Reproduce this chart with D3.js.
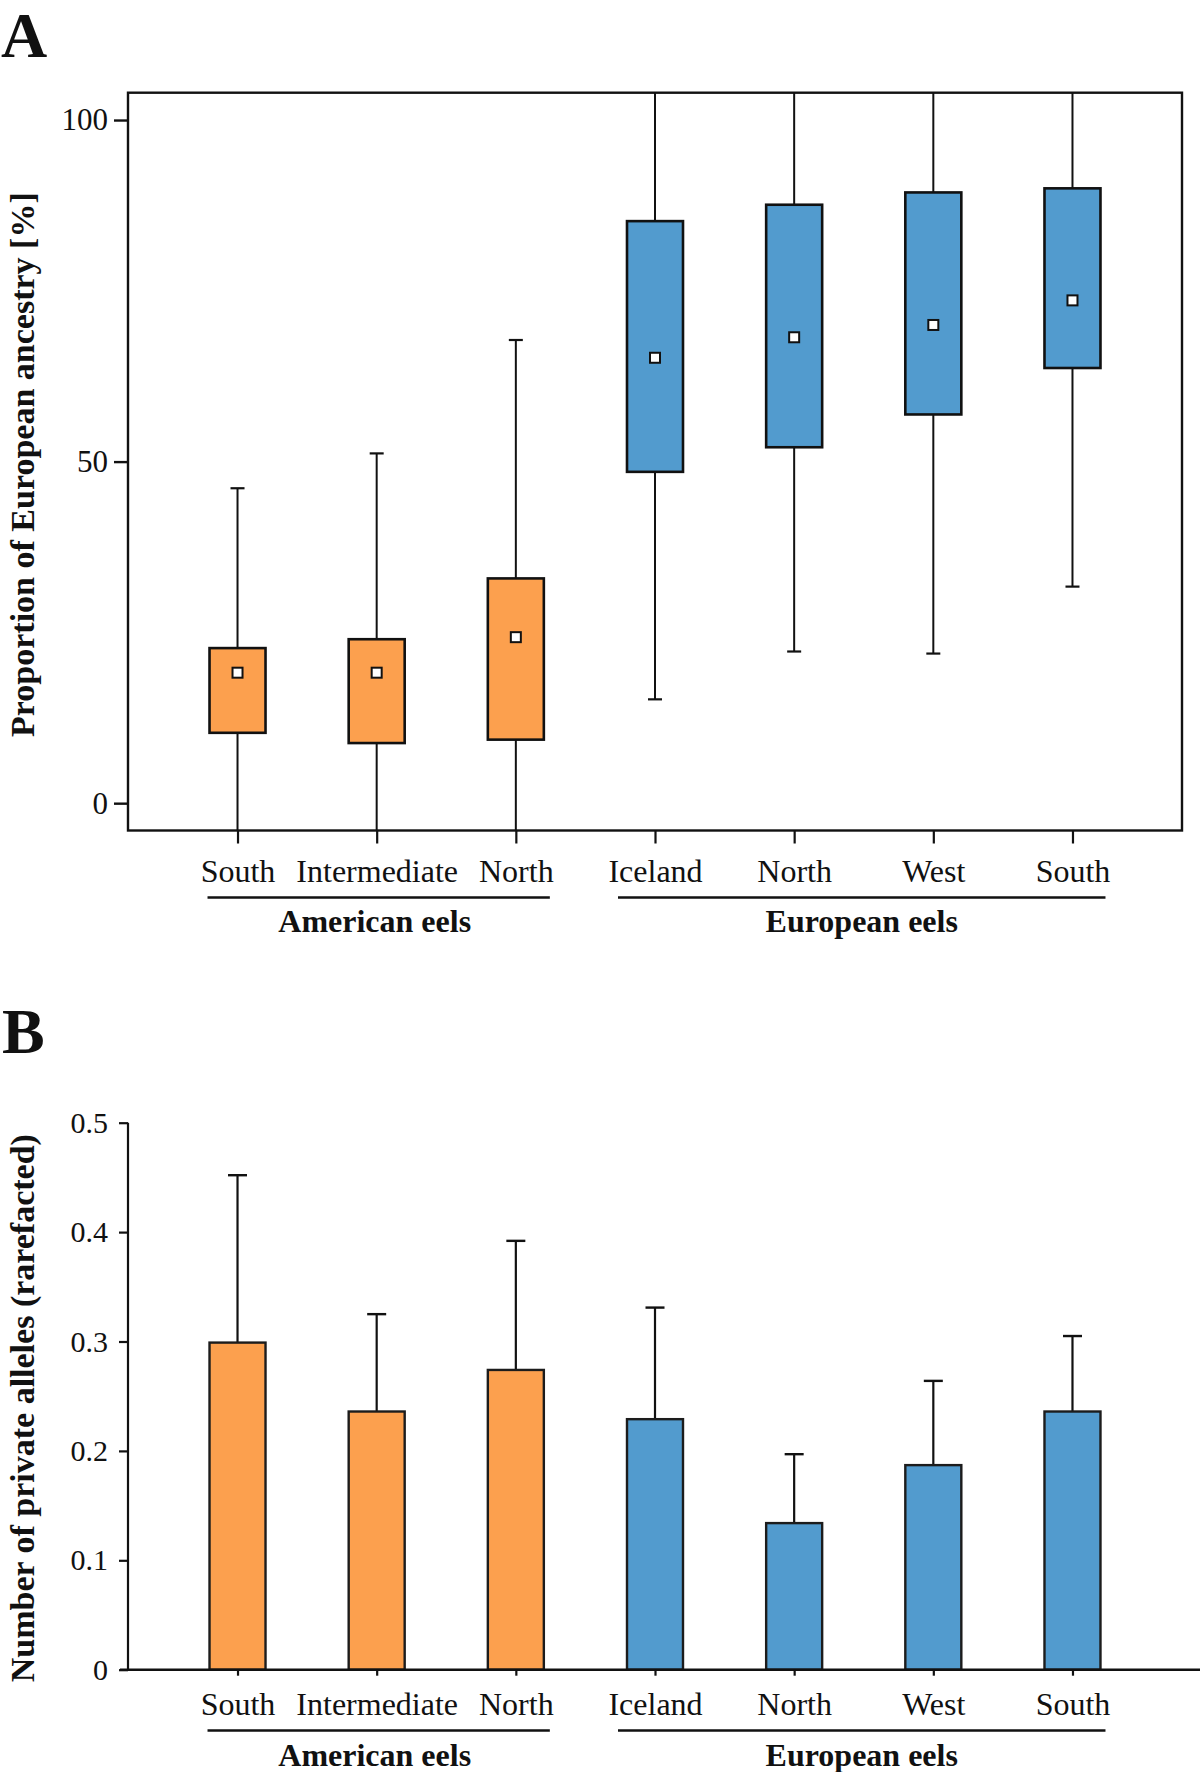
<!DOCTYPE html>
<html>
<head>
<meta charset="utf-8">
<script src="https://cdn.jsdelivr.net/npm/d3@7"></script>
<style>
  html, body { margin: 0; padding: 0; background: #fff; }
  svg { display: block; }
  text { font-family: "Liberation Serif", "Times New Roman", serif; fill: #111; }
</style>
</head>
<body>
<svg id="chart" width="1200" height="1772"></svg>
<script>
// ---------- data ----------
const categories = ["South", "Intermediate", "North", "Iceland", "North", "West", "South"];
const groups = ["American eels", "American eels", "American eels", "European eels", "European eels", "European eels", "European eels"];
const groupNames = ["American eels", "European eels"];

// Panel A: proportion of European ancestry [%]
const whiskerLow  = [0, 0, 0, 15.2, 22.2, 21.9, 31.7];
const boxLow      = [10.3, 8.8, 9.3, 48.5, 52.1, 56.9, 63.7];
const centerMark  = [19.1, 19.1, 24.3, 65.2, 68.2, 70.0, 73.6];
const boxHigh     = [22.7, 24.0, 32.9, 85.2, 87.6, 89.4, 90.0];
const whiskerHigh = [46.1, 51.2, 67.8, 100, 100, 100, 100];
const ticksA = [0, 50, 100];

// Panel B: number of private alleles (rarefacted)
const allelesMean = [0.299, 0.236, 0.274, 0.229, 0.134, 0.187, 0.236];
const allelesErr  = [0.452, 0.325, 0.392, 0.331, 0.197, 0.264, 0.305];
const ticksB = [0, 0.1, 0.2, 0.3, 0.4, 0.5];

// ---------- styling ----------
const ORANGE = "#FCA04E";
const BLUE = "#529BCE";
const INK = "#111";
const colorFor = g => g === "American eels" ? ORANGE : BLUE;
const bracketPad = { "American eels": [30, 34], "European eels": [37, 33] };

const keys = categories.map((c, i) => i);
const svg = d3.select("#chart");

// ---------- panel A ----------
const A = { left: 128, right: 1182, top: 92.7, bottom: 830.5 };
const xA = d3.scalePoint().domain(keys).range([A.left, A.right]).padding(0.787);
const yA = d3.scaleLinear().domain([-4, 104]).range([A.bottom, A.top]);
const boxW = 56, capA = 14, markS = 10;

svg.append("text").attr("x", 1).attr("y", 56.5)
  .attr("font-size", 64).attr("font-weight", "bold").text("A");

const gA = svg.append("g");
gA.append("clipPath").attr("id", "clipA").append("rect")
  .attr("x", A.left).attr("y", A.top).attr("width", A.right - A.left).attr("height", A.bottom - A.top);
const plotA = gA.append("g").attr("clip-path", "url(#clipA)");

keys.forEach(i => {
  const cx = xA(i);
  const lowEdge = whiskerLow[i] <= 0 ? A.bottom : yA(whiskerLow[i]);
  const highEdge = whiskerHigh[i] >= 100 ? A.top : yA(whiskerHigh[i]);
  plotA.append("line").attr("x1", cx).attr("x2", cx).attr("y1", yA(boxLow[i])).attr("y2", lowEdge)
    .attr("stroke", INK).attr("stroke-width", 2);
  plotA.append("line").attr("x1", cx).attr("x2", cx).attr("y1", yA(boxHigh[i])).attr("y2", highEdge)
    .attr("stroke", INK).attr("stroke-width", 2);
  if (whiskerLow[i] > 0) {
    plotA.append("line").attr("x1", cx - capA / 2).attr("x2", cx + capA / 2)
      .attr("y1", yA(whiskerLow[i])).attr("y2", yA(whiskerLow[i])).attr("stroke", INK).attr("stroke-width", 2.2);
  }
  if (whiskerHigh[i] < 100) {
    plotA.append("line").attr("x1", cx - capA / 2).attr("x2", cx + capA / 2)
      .attr("y1", yA(whiskerHigh[i])).attr("y2", yA(whiskerHigh[i])).attr("stroke", INK).attr("stroke-width", 2.2);
  }
  plotA.append("rect").attr("x", cx - boxW / 2).attr("y", yA(boxHigh[i]))
    .attr("width", boxW).attr("height", yA(boxLow[i]) - yA(boxHigh[i]))
    .attr("fill", colorFor(groups[i])).attr("stroke", INK).attr("stroke-width", 2.6);
  plotA.append("rect").attr("x", cx - markS / 2).attr("y", yA(centerMark[i]) - markS / 2)
    .attr("width", markS).attr("height", markS)
    .attr("fill", "#fff").attr("stroke", INK).attr("stroke-width", 2);
});

gA.append("rect").attr("x", A.left).attr("y", A.top).attr("width", A.right - A.left).attr("height", A.bottom - A.top)
  .attr("fill", "none").attr("stroke", INK).attr("stroke-width", 2.4);

const yAxisA = d3.axisLeft(yA).tickValues(ticksA).tickSize(14).tickPadding(6).tickFormat(d3.format("d"));
const yaxA = gA.append("g").attr("transform", `translate(${A.left},0)`).call(yAxisA);
yaxA.select(".domain").remove();
yaxA.selectAll(".tick line").attr("stroke", INK).attr("stroke-width", 2.4);
yaxA.selectAll(".tick text").attr("font-size", 31).attr("font-family", "Liberation Serif, serif").attr("fill", INK);

const xAxisA = d3.axisBottom(xA).tickSize(13).tickPadding(14).tickFormat(i => categories[i]);
const xaxA = gA.append("g").attr("transform", `translate(0,${A.bottom})`).call(xAxisA);
xaxA.select(".domain").remove();
xaxA.selectAll(".tick line").attr("stroke", INK).attr("stroke-width", 2.2);
xaxA.selectAll(".tick text").attr("font-size", 32).attr("font-family", "Liberation Serif, serif").attr("fill", INK)
  .attr("dy", null).attr("y", 51);

svg.append("text")
  .attr("transform", `translate(34,${(A.top + A.bottom) / 2 + 3}) rotate(-90)`)
  .attr("text-anchor", "middle").attr("font-size", 34).attr("font-weight", "bold")
  .text("Proportion of European ancestry [%]");

function groupBrackets(x, lineY, labelY) {
  groupNames.forEach(gn => {
    const idx = keys.filter(i => groups[i] === gn);
    const pad = bracketPad[gn];
    const x0 = x(idx[0]) - pad[0], x1 = x(idx[idx.length - 1]) + pad[1];
    svg.append("line").attr("x1", x0).attr("x2", x1).attr("y1", lineY).attr("y2", lineY)
      .attr("stroke", INK).attr("stroke-width", 2.4);
    svg.append("text").attr("x", (x(idx[0]) + x(idx[idx.length - 1])) / 2 - 2).attr("y", labelY)
      .attr("text-anchor", "middle").attr("font-size", 32).attr("font-weight", "bold").text(gn);
  });
}
groupBrackets(xA, 897.5, 931.5);

// ---------- panel B ----------
const B = { left: 128, right: 1200, top: 1122.7, bottom: 1669.7 };
const xB = xA;
const yB = d3.scaleLinear().domain([0, 0.5]).range([B.bottom, B.top]);
const capB = 19;

svg.append("text").attr("x", 2).attr("y", 1053)
  .attr("font-size", 64).attr("font-weight", "bold").text("B");

const gB = svg.append("g");
keys.forEach(i => {
  const cx = xB(i);
  gB.append("line").attr("x1", cx).attr("x2", cx).attr("y1", yB(allelesMean[i])).attr("y2", yB(allelesErr[i]))
    .attr("stroke", INK).attr("stroke-width", 2.2);
  gB.append("line").attr("x1", cx - capB / 2).attr("x2", cx + capB / 2)
    .attr("y1", yB(allelesErr[i])).attr("y2", yB(allelesErr[i])).attr("stroke", INK).attr("stroke-width", 2.4);
  gB.append("rect").attr("x", cx - boxW / 2).attr("y", yB(allelesMean[i]))
    .attr("width", boxW).attr("height", yB(0) - yB(allelesMean[i]))
    .attr("fill", colorFor(groups[i])).attr("stroke", "#1c1c1c").attr("stroke-width", 2.4);
});

const yAxisB = d3.axisLeft(yB).tickValues(ticksB).tickSize(9).tickPadding(11)
  .tickFormat(d => d === 0 ? "0" : d3.format(".1f")(d));
const yaxB = gB.append("g").attr("transform", `translate(${B.left},0)`).call(yAxisB);
yaxB.select(".domain").attr("d", `M0,${B.top}V${B.bottom}`).attr("stroke", INK).attr("stroke-width", 2.2);
yaxB.selectAll(".tick line").attr("stroke", INK).attr("stroke-width", 2.2);
yaxB.selectAll(".tick text").attr("font-size", 30).attr("font-family", "Liberation Serif, serif").attr("fill", INK);

const xAxisB = d3.axisBottom(xB).tickSize(6).tickPadding(14).tickFormat(i => categories[i]);
const xaxB = gB.append("g").attr("transform", `translate(0,${B.bottom})`).call(xAxisB);
xaxB.select(".domain").attr("d", `M${B.left - 8},0H${B.right}`).attr("stroke", INK).attr("stroke-width", 2.4);
xaxB.selectAll(".tick line").attr("stroke", INK).attr("stroke-width", 2.2);
xaxB.selectAll(".tick text").attr("font-size", 32).attr("font-family", "Liberation Serif, serif").attr("fill", INK)
  .attr("dy", null).attr("y", 45);

svg.append("text")
  .attr("transform", `translate(34,${(B.top + B.bottom) / 2 + 12}) rotate(-90)`)
  .attr("text-anchor", "middle").attr("font-size", 34).attr("font-weight", "bold")
  .text("Number of private alleles (rarefacted)");

groupBrackets(xB, 1730.5, 1766);
</script>
</body>
</html>
